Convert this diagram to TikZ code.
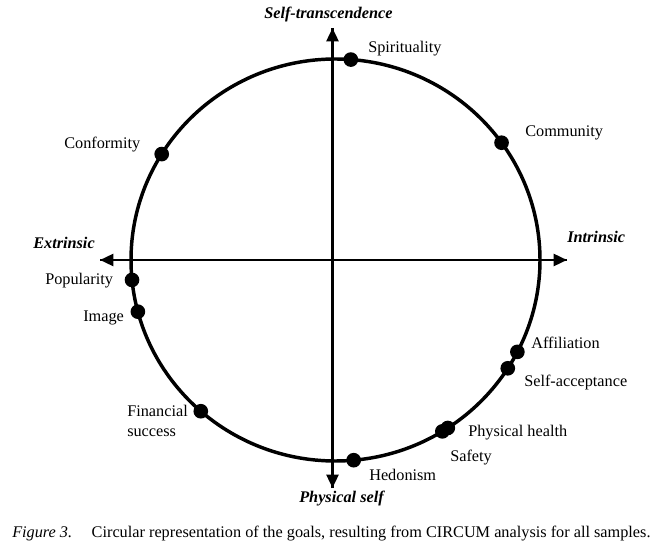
\documentclass[tikz,border=0pt]{standalone}
\usepackage{fontspec}
\setmainfont{Liberation Serif}
\usetikzlibrary{arrows.meta}
\begin{document}
\begin{tikzpicture}[x=0.75pt,y=-0.75pt,
  lbl/.style={font=\fontsize{12.2}{14}\selectfont,inner sep=0pt,anchor=base west},
  axlbl/.style={font=\fontsize{12.2}{14}\selectfont\bfseries\itshape,inner sep=0pt,anchor=base west},
  dot/.style={circle,fill=black,inner sep=0pt,minimum size=11pt},
  axis/.style={line width=1.8pt,-{Triangle[length=10pt,width=9pt]}},
  ring/.style={line width=2.6pt}]
\useasboundingbox (0,0) rectangle (660,548);
% axes
\coordinate (o) at (332.5,260);
\coordinate (top) at (332.5,28);
\coordinate (bot) at (332.5,488);
\coordinate (lft) at (100,260);
\coordinate (rgt) at (567,260);
\draw[axis] (bot) -- (top);
\draw[axis] (top) -- (bot);
\draw[axis] (rgt) -- (lft);
\draw[axis] (lft) -- (rgt);
% circle
\draw[ring] (335.5,260) ellipse [x radius=204.5, y radius=201];
% dots
\foreach \n/\a in {spi/85.7, com/35.7, con/148.2, pop/185.7, ima/194.9, fin/228.8, hed/275.1, saf/301.5, phy/303.3, aff/332.8, sac/327.4}
  \node[dot] (\n) at ({335.5+204.5*cos(\a)},{260-201*sin(\a)}) {};
% labels
\node[lbl] (lspi) at (368,53) {Spirituality};
\node[lbl] (lcom) at (525,137) {Community};
\node[lbl] (lcon) at (64,149) {Conformity};
\node[lbl] (lpop) at (45,285) {Popularity};
\node[lbl] (lima) at (83,322) {Image};
\node[lbl] (lfin) at (127,417) {Financial};
\node[lbl] (lfin2) at (127,437) {success};
\node[lbl] (lhed) at (369,480) {Hedonism};
\node[lbl] (lsaf) at (450,462) {Safety};
\node[lbl] (lphy) at (468,436) {Physical health};
\node[lbl] (laff) at (531,349) {Affiliation};
\node[lbl] (lsac) at (524,387) {Self-acceptance};
% axis labels
\node[axlbl] (ltop) at (264,19) {Self-transcendence};
\node[axlbl] (lbot) at (299,503) {Physical self};
\node[axlbl] (llft) at (33,249) {Extrinsic};
\node[axlbl] (lrgt) at (567,243) {Intrinsic};
% caption
\node[lbl] (cap) at (12,537) {\textit{Figure 3.}\hspace{1.2em}Circular representation of the goals, resulting from CIRCUM analysis for all samples.};
\end{tikzpicture}
\end{document}
